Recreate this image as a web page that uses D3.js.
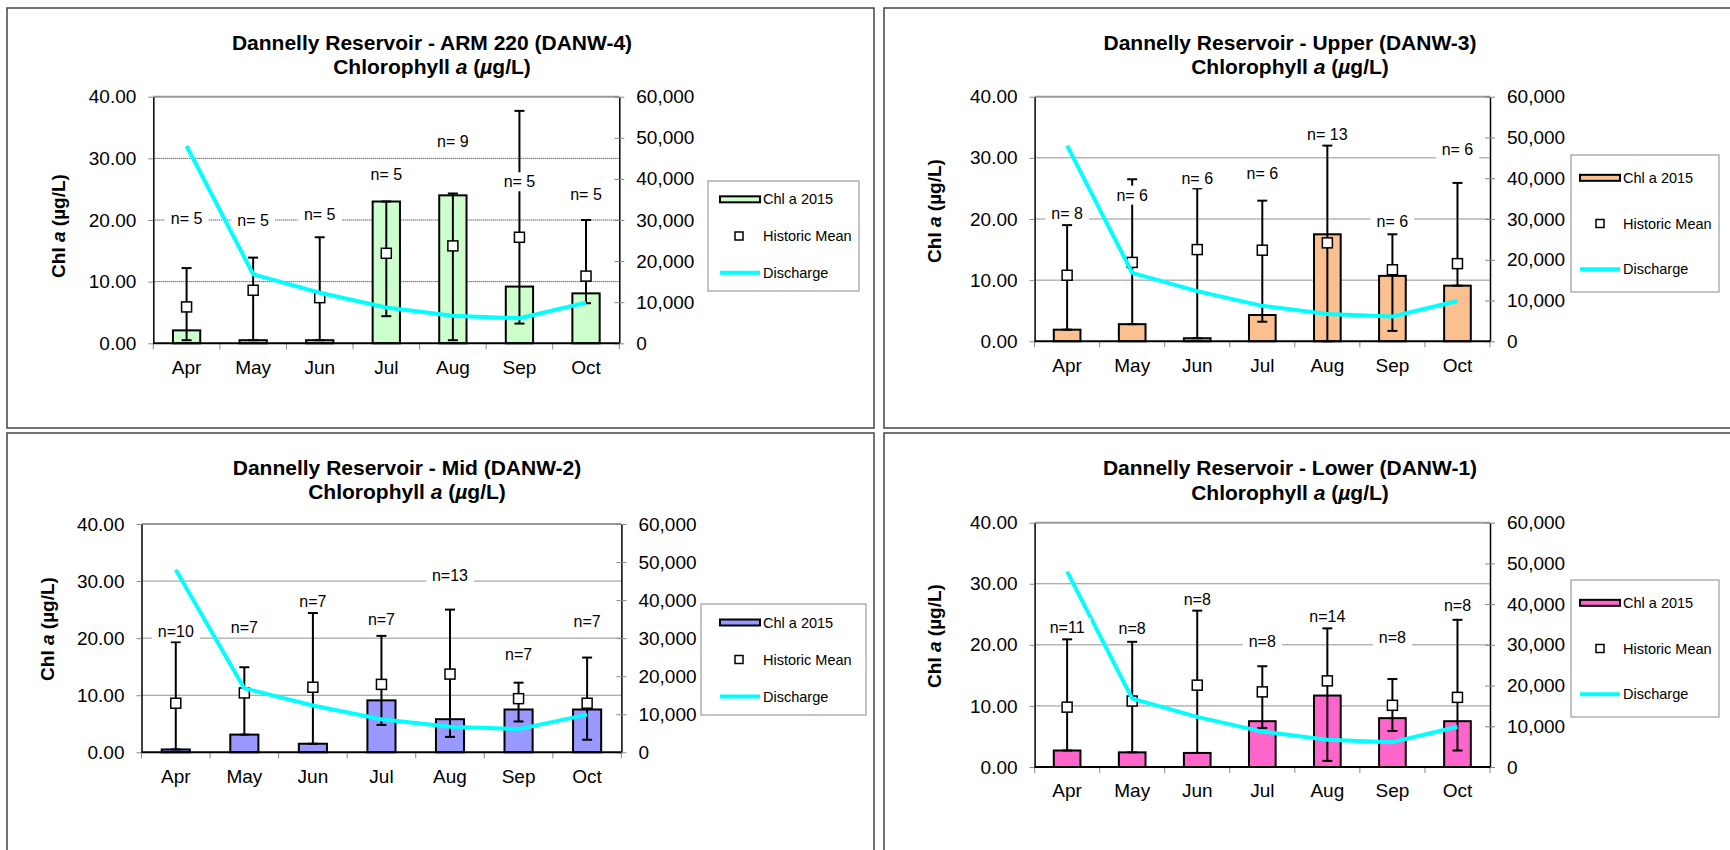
<!DOCTYPE html>
<html><head><meta charset="utf-8">
<script src="https://cdn.jsdelivr.net/npm/d3@7"></script>
<style>
body{margin:0;background:#fff;}
svg{display:block;font-family:"Liberation Sans",Arial,sans-serif;}
</style></head><body>
<svg id="chart" width="1730" height="850"></svg>
<script>
// ---------- data ----------
const months = ["Apr","May","Jun","Jul","Aug","Sep","Oct"];
const leftTicks = [0,10,20,30,40];
const rightTicks = [0,10000,20000,30000,40000,50000,60000];
const discharge = [48000,16800,12300,8700,6700,6100,9900];

const arm220Chl  = [2.1,0.5,0.5,23.0,24.0,9.2,8.1];
const arm220Mean = [5.9,8.6,7.4,14.6,15.8,17.2,10.9];
const arm220Min  = [0.5,0.5,0.5,4.4,0.5,3.2,6.5];
const arm220Max  = [12.2,13.9,17.2,23.0,24.3,37.7,20.0];
const arm220N    = ["n= 5","n= 5","n= 5","n= 5","n= 9","n= 5","n= 5"];
const arm220NAt  = [20.3,19.9,20.9,27.4,32.7,26.2,24.2];

const upperChl  = [1.9,2.8,0.5,4.3,17.5,10.7,9.1];
const upperMean = [10.8,12.9,15.0,14.9,16.1,11.7,12.7];
const upperMin  = [1.9,2.8,0.5,3.2,0.0,1.7,9.1];
const upperMax  = [19.0,26.5,25.0,23.0,32.0,17.5,25.9];
const upperN    = ["n= 8","n= 6","n= 6","n= 6","n= 13","n= 6","n= 6"];
const upperNAt  = [20.9,23.9,26.6,27.4,33.9,19.6,31.3];

const midChl  = [0.5,3.1,1.5,9.1,5.8,7.5,7.5];
const midMean = [8.6,10.4,11.4,11.9,13.7,9.4,8.6];
const midMin  = [0.5,3.1,1.5,4.8,2.7,5.4,2.2];
const midMax  = [19.3,14.9,24.4,20.4,25.0,12.2,16.6];
const midN    = ["n=10","n=7","n=7","n=7","n=13","n=7","n=7"];
const midNAt  = [21.1,21.9,26.4,23.2,30.9,17.2,22.9];

const lowerChl  = [2.7,2.4,2.3,7.5,11.7,8.0,7.5];
const lowerMean = [9.8,10.8,13.4,12.3,14.1,10.1,11.4];
const lowerMin  = [2.7,2.4,2.3,6.4,1.0,5.9,2.7];
const lowerMax  = [20.9,20.5,25.6,16.5,22.7,14.4,24.1];
const lowerN    = ["n=11","n=8","n=8","n=8","n=14","n=8","n=8"];
const lowerNAt  = [22.8,22.6,27.5,20.5,24.7,21.2,26.4];

const panels = [
  {site:"ARM 220 (DANW-4)", chl:arm220Chl, mean:arm220Mean, min:arm220Min, max:arm220Max, n:arm220N, nAt:arm220NAt,
   color:"#ccffcc", frame:[7,8,867,420], plot:[153.3,619.3,96.7,343.3], titleX:432, titleY:[42.5,66],
   yTitle:[58,226], legend:[708,181,151,110], legendIn:[12,55,31]},
  {site:"Upper (DANW-3)", chl:upperChl, mean:upperMean, min:upperMin, max:upperMax, n:upperN, nAt:upperNAt,
   color:"#fac090", frame:[884,8,870,420], plot:[1034.6,1490,96.7,341.3], titleX:1290, titleY:[42.5,66],
   yTitle:[934,211], legend:[1571,155,148,137], legendIn:[9,52,29]},
  {site:"Mid (DANW-2)", chl:midChl, mean:midMean, min:midMin, max:midMax, n:midN, nAt:midNAt,
   color:"#9999ff", frame:[7,433,867,440], plot:[141.5,621.4,524,752.3], titleX:407, titleY:[467,490.5],
   yTitle:[47,629], legend:[701,604,165,111], legendIn:[19,62,38]},
  {site:"Lower (DANW-1)", chl:lowerChl, mean:lowerMean, min:lowerMin, max:lowerMax, n:lowerN, nAt:lowerNAt,
   color:"#ff66cc", frame:[884,433,870,440], plot:[1034.6,1490,522.7,767], titleX:1290, titleY:[467.5,491.5],
   yTitle:[934,636], legend:[1571,580,148,137], legendIn:[9,52,29]}
];

const svg = d3.select("#chart");
const FONT = '"Liberation Sans",Arial,sans-serif';

panels.forEach(drawPanel);

function drawPanel(p){
  const g = svg.append("g");
  const [fx,fy,fw,fh] = p.frame;
  g.append("rect").attr("x",fx).attr("y",fy).attr("width",fw).attr("height",fh)
    .attr("fill","none").attr("stroke","#444").attr("stroke-width",1.5);

  const [px0,px1,pyTop,pyBot] = p.plot;
  const x = d3.scaleBand().domain(months).range([px0,px1]);
  const yL = d3.scaleLinear().domain([0,40]).range([pyBot,pyTop]);
  const yR = d3.scaleLinear().domain([0,60000]).range([pyBot,pyTop]);
  const cx = m => x(m) + x.bandwidth()/2;

  // gridlines
  g.selectAll(".grid").data(leftTicks.filter(t => t>0 && t<40)).join("line")
    .attr("x1",px0).attr("x2",px1).attr("y1",d=>yL(d)).attr("y2",d=>yL(d))
    .attr("stroke","#222").attr("stroke-width",1).attr("stroke-dasharray","1,1");
  g.append("line").attr("x1",px0).attr("x2",px1).attr("y1",yL(40)).attr("y2",yL(40))
    .attr("stroke","#999").attr("stroke-width",2);

  // bars
  const bw = x.bandwidth()*0.41;
  g.selectAll(".bar").data(p.chl).join("rect")
    .attr("x",(d,i)=>cx(months[i])-bw/2).attr("y",d=>yL(d))
    .attr("width",bw).attr("height",d=>yL(0)-yL(d))
    .attr("fill",p.color).attr("stroke","#000").attr("stroke-width",2);

  // axes
  const axL = g.append("g").attr("transform",`translate(${px0},0)`)
    .call(d3.axisLeft(yL).tickValues(leftTicks).tickFormat(d3.format(".2f")).tickSize(5).tickSizeOuter(0).tickPadding(12));
  const axR = g.append("g").attr("transform",`translate(${px1},0)`)
    .call(d3.axisRight(yR).tickValues(rightTicks).tickFormat(d3.format(",")).tickSize(5).tickSizeOuter(0).tickPadding(12));
  axR.selectAll(".tick line").attr("x1",-5);
  const axB = g.append("g").attr("transform",`translate(0,${pyBot})`)
    .call(d3.axisBottom(x).tickSize(0).tickPadding(17));
  axB.select(".domain").remove();
  [axL,axR,axB].forEach(a=>{
    a.attr("font-family",FONT).attr("font-size",19);
    a.selectAll("text").attr("fill","#000");
    a.selectAll(".tick line").attr("stroke","#888").attr("stroke-width",1);
    a.select(".domain").attr("stroke","#000").attr("stroke-width",1.5);
  });
  // category boundary ticks
  g.selectAll(".ctick").data(d3.range(months.length+1)).join("line")
    .attr("x1",i=>px0+i*x.step()).attr("x2",i=>px0+i*x.step())
    .attr("y1",pyBot).attr("y2",pyBot+6).attr("stroke","#888").attr("stroke-width",1);
  // zero line
  g.append("line").attr("x1",px0).attr("x2",px1).attr("y1",yL(0)).attr("y2",yL(0))
    .attr("stroke","#000").attr("stroke-width",2);

  // error bars
  const cap = 5;
  const eb = g.selectAll(".eb").data(months).join("g");
  eb.append("line").attr("x1",cx).attr("x2",cx)
    .attr("y1",(m,i)=>yL(p.min[i])).attr("y2",(m,i)=>yL(p.max[i])).attr("stroke","#000").attr("stroke-width",2);
  eb.append("line").attr("x1",m=>cx(m)-cap).attr("x2",m=>cx(m)+cap)
    .attr("y1",(m,i)=>yL(p.min[i])).attr("y2",(m,i)=>yL(p.min[i])).attr("stroke","#000").attr("stroke-width",2);
  eb.append("line").attr("x1",m=>cx(m)-cap).attr("x2",m=>cx(m)+cap)
    .attr("y1",(m,i)=>yL(p.max[i])).attr("y2",(m,i)=>yL(p.max[i])).attr("stroke","#000").attr("stroke-width",2);
  // historic mean markers
  g.selectAll(".mk").data(p.mean).join("rect")
    .attr("x",(d,i)=>cx(months[i])-5).attr("y",d=>yL(d)-5).attr("width",10).attr("height",10)
    .attr("fill","#fff").attr("stroke","#000").attr("stroke-width",1.5);

  // discharge
  g.append("path").datum(discharge)
    .attr("d",d3.line().x((d,i)=>cx(months[i])).y(d=>yR(d)))
    .attr("fill","none").attr("stroke","#00ffff").attr("stroke-width",4).attr("stroke-linejoin","round");

  // n labels
  const nl = g.selectAll(".nl").data(p.n).join("g");
  nl.each(function(d,i){
    const gg = d3.select(this);
    const bg = gg.append("rect").attr("fill","#fff");
    const t = gg.append("text").attr("x",cx(months[i])).attr("y",yL(p.nAt[i]))
      .attr("text-anchor","middle").attr("dominant-baseline","central")
      .attr("font-family",FONT).attr("font-size",16).attr("fill","#000").text(d);
    const b = t.node().getBBox();
    bg.attr("x",b.x-6).attr("y",b.y-1).attr("width",b.width+12).attr("height",b.height+2);
  });

  // titles
  const tt = g.append("text").attr("text-anchor","middle").attr("font-family",FONT)
    .attr("font-size",21).attr("font-weight","bold").attr("fill","#000");
  tt.append("tspan").attr("x",p.titleX).attr("y",p.titleY[0]).attr("dominant-baseline","central")
    .text("Dannelly Reservoir - " + p.site);
  const l2 = g.append("text").attr("text-anchor","middle").attr("font-family",FONT)
    .attr("font-size",21).attr("font-weight","bold").attr("fill","#000")
    .attr("x",p.titleX).attr("y",p.titleY[1]).attr("dominant-baseline","central");
  l2.append("tspan").text("Chlorophyll ");
  l2.append("tspan").attr("font-style","italic").text("a");
  l2.append("tspan").text(" (");
  l2.append("tspan").attr("font-style","italic").text("\u00b5");
  l2.append("tspan").text("g/L)");

  const yt = g.append("text").attr("transform",`translate(${p.yTitle[0]},${p.yTitle[1]}) rotate(-90)`)
    .attr("text-anchor","middle").attr("dominant-baseline","central")
    .attr("font-family",FONT).attr("font-size",19).attr("font-weight","bold").attr("fill","#000");
  yt.append("tspan").text("Chl ");
  yt.append("tspan").attr("font-style","italic").text("a");
  yt.append("tspan").text(" (\u00b5g/L)");

  // legend
  const [lx,ly,lw,lh] = p.legend;
  const [sx,tx,mx] = p.legendIn;
  const lg = g.append("g");
  lg.append("rect").attr("x",lx).attr("y",ly).attr("width",lw).attr("height",lh)
    .attr("fill","#fff").attr("stroke","#888").attr("stroke-width",1);
  const rows = [lh/6, lh/2, lh*5/6].map(v=>ly+v);
  lg.append("rect").attr("x",lx+sx).attr("y",rows[0]-3).attr("width",40).attr("height",6)
    .attr("fill",p.color).attr("stroke","#000").attr("stroke-width",2);
  lg.append("rect").attr("x",lx+mx-4).attr("y",rows[1]-4).attr("width",8).attr("height",8)
    .attr("fill","#fff").attr("stroke","#000").attr("stroke-width",1.5);
  lg.append("line").attr("x1",lx+sx).attr("x2",lx+sx+40).attr("y1",rows[2]).attr("y2",rows[2])
    .attr("stroke","#00ffff").attr("stroke-width",4);
  ["Chl a 2015","Historic Mean","Discharge"].forEach((s,i)=>{
    lg.append("text").attr("x",lx+tx).attr("y",rows[i]).attr("dominant-baseline","central")
      .attr("font-family",FONT).attr("font-size",14.5).attr("fill","#000").text(s);
  });
}
</script>
</body></html>
